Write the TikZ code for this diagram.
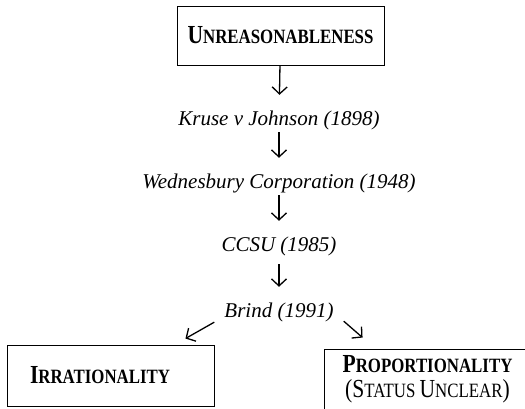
\documentclass[tikz,border=0pt]{standalone}
\usepackage{fontspec}
\setmainfont{Liberation Serif}
\newfontfamily\tallserif{Liberation Serif}[FakeStretch=0.83]
\usepackage{tikz}
\usetikzlibrary{arrows.meta, positioning}

\newcommand{\capsc}[2]{{\fontsize{26}{30}\selectfont #1}{\fontsize{20.3}{30}\selectfont #2}}

\begin{document}
\begin{tikzpicture}[x=1pt,y=1pt,
  box/.style={draw, line width=0.9pt, minimum width=207pt, minimum height=60pt, inner sep=0pt},
  case/.style={font=\fontsize{21}{24}\selectfont\itshape, inner sep=0pt, text height=14pt, text depth=5pt, anchor=base},
  down/.style={line width=1.3pt, -{Straight Barb[length=7pt,width=15pt]}}]
\useasboundingbox (0,0) rectangle (525,408);
\clip (0,0) rectangle (525,408);
\node[box, minimum height=59pt, font=\tallserif] (unreas) at (280.5,372.5) {\bfseries\capsc{U}{NREASONABLENESS}};
\node[case] (kruse) at (279,283) {Kruse v Johnson (1898)};
\node[case] (wed) at (279,220) {Wednesbury Corporation (1948)};
\node[case] (ccsu) at (279,157) {CCSU (1985)};
\node[case] (brind) at (279,91) {Brind (1991)};
\node[box, minimum height=61pt, text width=161pt, align=left, font=\tallserif\fontsize{20.3}{30}\selectfont] (irr) at (110.5,32.5) {\bfseries\capsc{I}{RRATIONALITY}};
\node[box, minimum height=61pt, align=center, font=\tallserif\fontsize{20.3}{25}\selectfont] (prop) at (427.5,28.5) {{\bfseries\capsc{P}{ROPORTIONALITY}}\\\capsc{(S}{TATUS} \capsc{U}{NCLEAR}\capsc{)}{}};
\draw[down, shorten >=16pt] (unreas) -- (kruse);
\draw[down, shorten <=2pt, shorten >=16pt] (kruse) -- (wed);
\draw[down, shorten <=2pt, shorten >=16pt] (wed) -- (ccsu);
\draw[down, shorten <=8pt, shorten >=16pt] (ccsu) -- (brind);
\draw[down] ([xshift=-10pt]brind.south west) -- ([xshift=-29pt,yshift=6pt]irr.north east);
\draw[down] ([xshift=10pt,yshift=1pt]brind.south east) -- ([xshift=39pt,yshift=11pt]prop.north west);
\end{tikzpicture}
\end{document}
